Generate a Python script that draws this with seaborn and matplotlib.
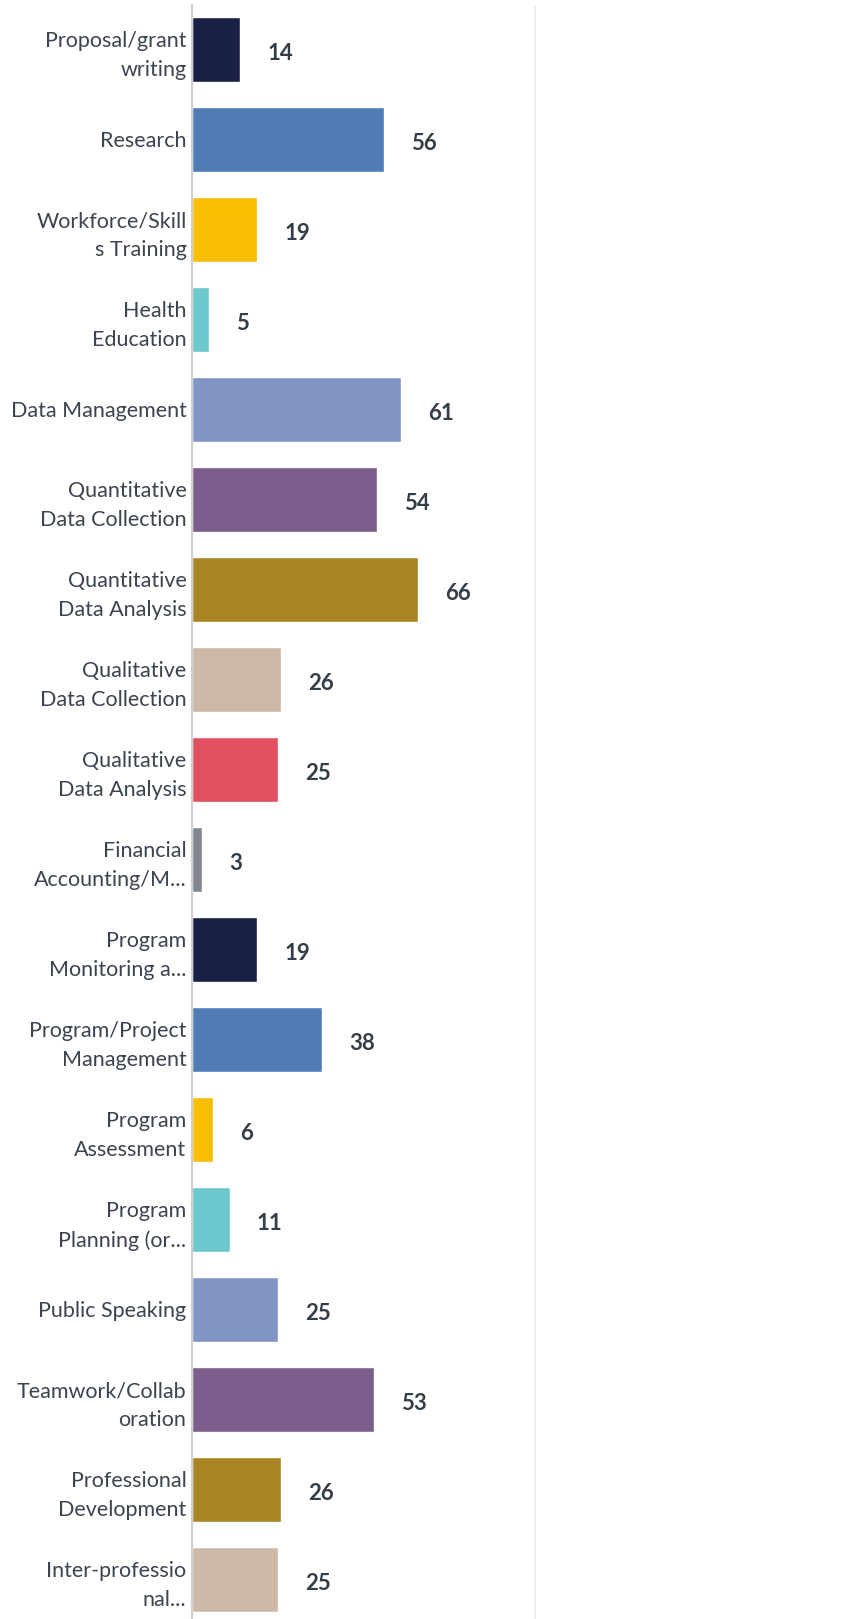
import pandas as pd
import matplotlib
matplotlib.use('Agg')
import matplotlib.pyplot as plt
import seaborn as sns

labels = ['Proposal/grant\nwriting', 'Research', 'Workforce/Skill\ns Training', 'Health\nEducation',
          'Data Management', 'Quantitative\nData Collection', 'Quantitative\nData Analysis',
          'Qualitative\nData Collection', 'Qualitative\nData Analysis', 'Financial\nAccounting/M...',
          'Program\nMonitoring a...', 'Program/Project\nManagement', 'Program\nAssessment',
          'Program\nPlanning (or...', 'Public Speaking', 'Teamwork/Collab\noration',
          'Professional\nDevelopment', 'Inter-professio\nnal...']
counts = [14, 56, 19, 5, 61, 54, 66, 26, 25, 3, 19, 38, 6, 11, 25, 53, 26, 25]
colors = ['#1a2044', '#507cb6', '#f9be00', '#6bc8cd', '#8195c4', '#7c5e8d', '#a98423',
          '#cdb7a6', '#e05061', '#7f868d']

df = pd.DataFrame({'label': labels, 'count': counts})
pal = [colors[i % len(colors)] for i in range(len(labels))]

sns.set_style('white')
plt.rcParams['font.family'] = ['Lato', 'DejaVu Sans']

fig = plt.figure(figsize=(8.63, 16.19), dpi=100)
ax = fig.add_axes([192 / 863, 0, 671 / 863, 1614 / 1619])

sns.barplot(data=df, x='count', y='label', hue='label', palette=pal, legend=False,
            width=0.73, saturation=1, ax=ax)

ax.set_xlim(0, 671 / 3.43)
ax.set_ylim(17.44, -0.494)
ax.set_xticks([100])
ax.xaxis.grid(True, color='#ececec', linewidth=1.3)
ax.set_axisbelow(True)
ax.tick_params(axis='x', length=0, labelbottom=False)
ax.tick_params(axis='y', length=0, pad=4, labelsize=15.5, labelcolor='#3b4450')
for lab in ax.get_yticklabels():
    lab.set_horizontalalignment('right')
    lab.set_linespacing(1.55)
ax.set_xlabel('')
ax.set_ylabel('')
for s in ['top', 'right', 'bottom']:
    ax.spines[s].set_visible(False)
ax.spines['left'].set_color('#cfcfcf')
ax.spines['left'].set_linewidth(1.6)

for i, v in enumerate(counts):
    ax.text(v + 7.9, i + 0.04, str(v), va='center', ha='left', fontsize=16,
            fontweight='bold', color='#333e48')

fig.savefig('out.png', dpi=100)
